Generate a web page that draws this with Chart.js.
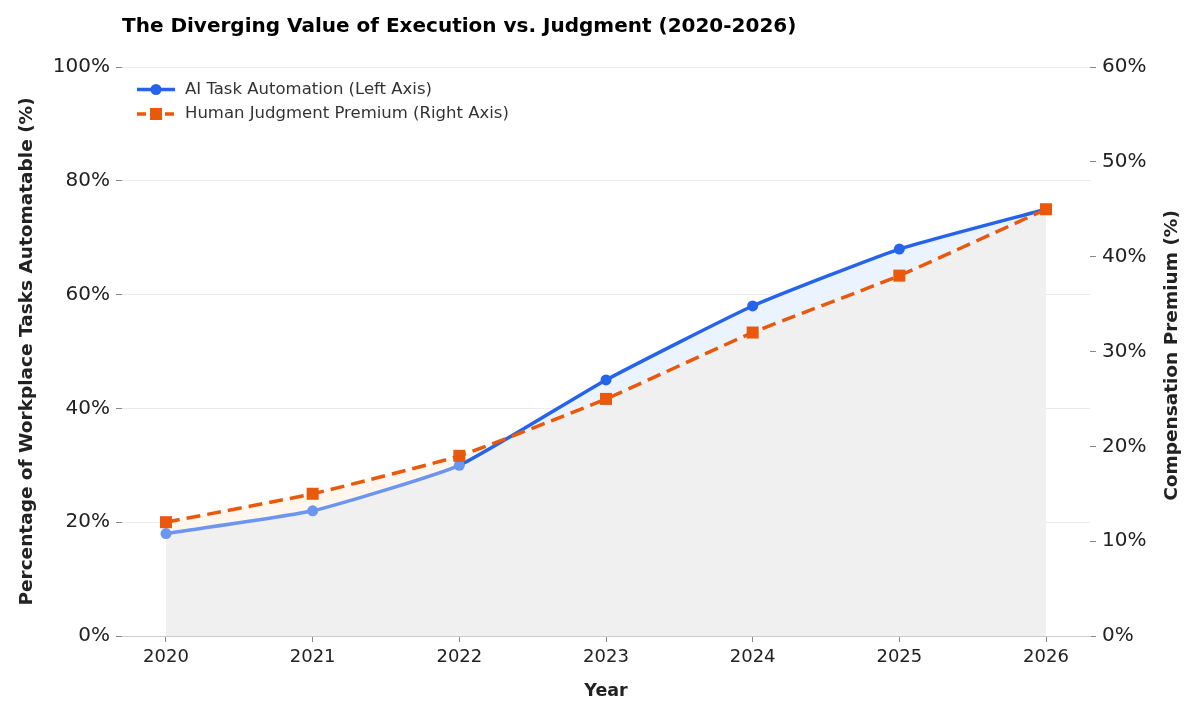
<!DOCTYPE html>
<html><head><meta charset="utf-8">
<script src="https://cdn.jsdelivr.net/npm/chart.js@4.4.1/dist/chart.umd.min.js"></script>
<style>html,body{margin:0;padding:0;background:#fff}#wrap{width:1200px;height:720px}</style>
</head><body><div id="wrap"><canvas id="c" width="1200" height="720"></canvas></div>
<script>
const years = [2020, 2021, 2022, 2023, 2024, 2025, 2026];
const aiAutomation = [18, 22, 30, 45, 58, 68, 75];
const judgmentPremium = [12, 15, 19, 25, 32, 38, 45];
const leftTicks = [0, 20, 40, 60, 80, 100];
const rightTicks = [0, 10, 20, 30, 40, 50, 60];
const rightAxisTitle = 'Compensation Premium (%)';

const BLUE = '#2563EB', BLUE_LIGHT = '#6B95EE', ORANGE = '#EA580C';
const FONT = "'DejaVu Sans', sans-serif";
const TXT = '#222';

function blueBelow(chart, i) {
  const y = chart.scales.y, y1 = chart.scales.y1;
  if (!y || !y1) return false;
  return y.getPixelForValue(aiAutomation[i]) > y1.getPixelForValue(judgmentPremium[i]) + 0.5;
}

const legendPlugin = {
  id: 'insideLegend',
  afterDraw(chart) {
    const {ctx, chartArea} = chart;
    const x0 = chartArea.left + 15, items = chart.data.datasets.filter(d => !d.helper);
    ctx.save();
    items.forEach((ds, k) => {
      const y = chartArea.top + 22.5 + k * 24.5;
      ctx.strokeStyle = ds.borderColor; ctx.lineWidth = 3.5;
      ctx.setLineDash(ds.borderDash ? [9, 5] : []);
      ctx.beginPath(); ctx.moveTo(x0, y); ctx.lineTo(x0 + 38, y); ctx.stroke();
      ctx.setLineDash([]);
      ctx.fillStyle = ds.borderColor;
      if (ds.pointStyle === 'rect') { ctx.fillRect(x0 + 13, y - 6, 12, 12); }
      else { ctx.beginPath(); ctx.arc(x0 + 19, y, 5.5, 0, Math.PI * 2); ctx.fill(); }
      ctx.fillStyle = '#333'; ctx.font = "16.5px " + FONT; ctx.textBaseline = 'middle'; ctx.textAlign = 'left';
      ctx.fillText(ds.label, x0 + 48, y);
    });
    const s = chart.scales.y1;
    ctx.translate(s.right - 28, (chartArea.top + chartArea.bottom) / 2 + 4);
    ctx.rotate(-Math.PI / 2);
    ctx.fillStyle = TXT; ctx.font = "bold 18.5px " + FONT; ctx.textAlign = 'center'; ctx.textBaseline = 'middle';
    ctx.fillText(rightAxisTitle, 0, 0);
    ctx.restore();
  }
};

new Chart(document.getElementById('c'), {
  type: 'line',
  data: {
    datasets: [
      {
        label: 'AI Task Automation (Left Axis)',
        data: years.map((yr, i) => ({x: yr, y: aiAutomation[i]})),
        yAxisID: 'y', order: 1,
        borderColor: BLUE, borderWidth: 3.5, tension: 0.15,
        pointStyle: 'circle', pointRadius: 5.5, pointBorderWidth: 0,
        pointBackgroundColor: c => (c.dataIndex !== undefined && blueBelow(c.chart, c.dataIndex)) ? BLUE_LIGHT : BLUE,
        segment: { borderColor: c => blueBelow(c.chart, c.p1DataIndex) ? BLUE_LIGHT : undefined },
        fill: false
      },
      {
        label: 'Human Judgment Premium (Right Axis)',
        data: years.map((yr, i) => ({x: yr, y: judgmentPremium[i]})),
        yAxisID: 'y1', order: 0,
        borderColor: ORANGE, borderWidth: 3.5, borderDash: [14, 7], tension: 0.15,
        pointStyle: 'rect', pointRadius: 8.5, pointBorderWidth: 0, pointBackgroundColor: ORANGE,
        fill: {target: 0, above: '#FFF7EE', below: '#EBF3FE'}
      },
      {
        label: 'area', helper: true,
        data: years.map((yr, i) => ({x: yr, y: aiAutomation[i]})),
        yAxisID: 'y', order: 2,
        borderWidth: 0, borderColor: 'rgba(0,0,0,0)', pointRadius: 0, tension: 0.15,
        fill: {target: 'origin', above: '#F0F0F0'}
      }
    ]
  },
  options: {
    responsive: false, animation: false, devicePixelRatio: 1,
    layout: {padding: {left: 16, right: 0, top: 0, bottom: 0}},
    plugins: {
      legend: {display: false}, tooltip: {enabled: false},
      filler: {drawTime: 'beforeDatasetsDraw'},
      title: {display: true, text: 'The Diverging Value of Execution vs. Judgment (2020-2026)',
        align: 'start', fullSize: false, color: '#000',
        font: {family: FONT, size: 20, weight: 'bold'}, padding: {top: 15, bottom: 28}}
    },
    scales: {
      x: {
        type: 'linear', min: 2019.7, max: 2026.3,
        afterBuildTicks: s => { s.ticks = years.map(v => ({value: v})); },
        afterFit: s => { s.height = 84; },
        ticks: {callback: v => String(v), color: TXT, font: {family: FONT, size: 18}, padding: 5},
        grid: {drawOnChartArea: false, tickLength: 6, tickColor: '#888', color: '#888'},
        border: {display: true, color: '#CCCCCC', width: 1},
        title: {display: true, text: 'Year', color: TXT, font: {family: FONT, size: 17.5, weight: 'bold'}, padding: {top: 4, bottom: 18}}
      },
      y: {
        position: 'left', min: 0, max: 100,
        afterBuildTicks: s => { s.ticks = leftTicks.map(v => ({value: v})); },
        afterFit: s => { s.width = 106; },
        ticks: {callback: v => v + '%', color: TXT, font: {family: FONT, size: 20}, padding: 6},
        grid: {color: '#EBEBEB', tickLength: 6, tickColor: '#888', lineWidth: 1},
        border: {display: false},
        title: {display: true, text: 'Percentage of Workplace Tasks Automatable (%)', color: TXT,
          font: {family: FONT, size: 18.5, weight: 'bold'}, padding: {top: 0, bottom: 4}}
      },
      y1: {
        position: 'right', min: 0, max: 60,
        afterBuildTicks: s => { s.ticks = rightTicks.map(v => ({value: v})); },
        afterFit: s => { s.width = 110; },
        ticks: {callback: v => v + '%', color: TXT, font: {family: FONT, size: 20}, padding: 6},
        grid: {drawOnChartArea: false, tickLength: 6, tickColor: '#888'},
        border: {display: false},
        title: {display: false}
      }
    }
  },
  plugins: [legendPlugin]
});
</script>
</body></html>
